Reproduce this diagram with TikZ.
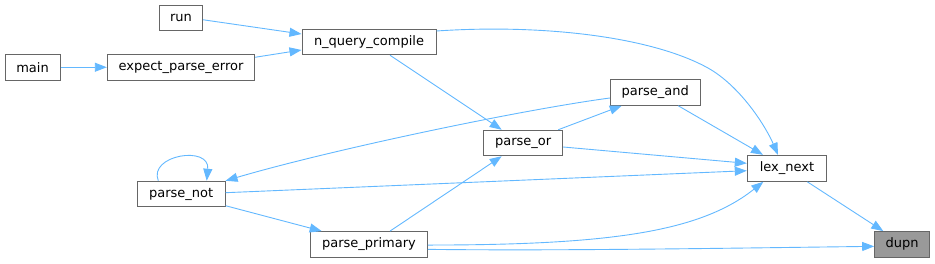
\documentclass[tikz,border=0pt]{standalone}
\usepackage{fontspec}
\setmainfont{DejaVu Sans}
\usetikzlibrary{arrows.meta}
\definecolor{edgec}{HTML}{63B8FF}
\definecolor{boxc}{HTML}{666666}
\definecolor{hlc}{HTML}{999999}
\begin{document}
\begin{tikzpicture}[x=1pt,y=-1pt,
  fn/.style={draw=boxc,line width=1pt,fill=white,inner sep=0pt,minimum height=25.5pt,font=\fontsize{13}{15}\selectfont,text=black},
  cur/.style={fn,fill=hlc},
  call/.style={draw=edgec,line width=0.9pt,-{Triangle[length=12pt,width=9pt]}}]
\useasboundingbox (0,0) rectangle (935,263);
\node[fn,minimum width=43pt] (run) at (181,17.75) {run};
\node[fn,minimum width=134pt] (nqc) at (369,42) {n\_query\_compile};
\node[fn,minimum width=55pt] (main) at (32.5,67.25) {main};
\node[fn,minimum width=147.4pt] (epe) at (181,67.25) {expect\_parse\_error};
\node[fn,minimum width=87.7pt] (pnot) at (181.2,194) {parse\_not};
\node[fn,minimum width=116.6pt] (pprim) at (369,244.35) {parse\_primary};
\node[fn,minimum width=79pt] (por) at (523.2,143) {parse\_or};
\node[fn,minimum width=89.7pt] (pand) at (655.2,92.5) {parse\_and};
\node[fn,minimum width=79.4pt,minimum height=26pt] (lex) at (787,168.3) {lex\_next};
\node[cur,minimum width=54.6pt] (dupn) at (902,244.35) {dupn};

\draw[call] ([yshift=-2pt]run.east) -- ([yshift=8pt]nqc.west);
\draw[call] ([yshift=10pt]epe.east) -- ([yshift=-8pt]nqc.west);
\draw[call] (main.east) -- (epe.west);
\draw[call] ([yshift=11pt]nqc.east) .. controls (540,24) and (650,36) .. (708,68)
  .. controls (740,86) and (765,125) .. ([xshift=-9pt]lex.north);
\draw[call] ([xshift=21pt]nqc.south) -- ([xshift=-21.5pt]por.north);
\draw[call] ([xshift=35pt]por.north) -- ([xshift=-33.5pt]pand.south);
\draw[call] ([yshift=-5.5pt]pand.west) .. controls (520,110) and (330,150) .. (pnot.north east);
\draw[call] ([xshift=23pt]pand.south) -- ([xshift=-24pt]lex.north);
\draw[call] ([yshift=-4pt]por.east) -- ([yshift=5pt]lex.west);
\draw[call] ([yshift=1.3pt]pnot.east) -- ([yshift=-2.4pt]lex.west);
\draw[call] ([yshift=-11.7pt]pnot.east) -- ([xshift=-47.3pt]pprim.north);
\draw[call] ([xshift=21pt]pprim.north) -- ([xshift=-21.5pt]por.south);
\draw[call] ([yshift=-0.7pt]pprim.east) .. controls (610,245) and (700,232) .. ([xshift=-23.7pt]lex.south);
\draw[call] ([yshift=-5pt]pprim.east) .. controls (560,251) and (740,248) .. ([yshift=-2pt]dupn.west);
\draw[call] ([xshift=20.3pt]lex.south) -- ([xshift=-18.7pt]dupn.north);
\draw[call] ([xshift=-22.9pt]pnot.north) .. controls (148,155) and (210,145) .. ([xshift=25.5pt]pnot.north);
\end{tikzpicture}
\end{document}
